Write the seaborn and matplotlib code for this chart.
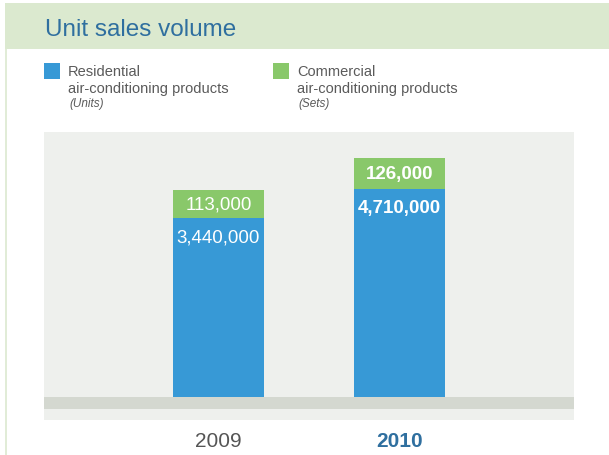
import matplotlib
matplotlib.use("Agg")
import matplotlib.pyplot as plt
from matplotlib.patches import Rectangle
from matplotlib.lines import Line2D
import seaborn as sns
import pandas as pd

# ---- data ----
years = ["2009", "2010"]
residential_units = [3440000, 4710000]
commercial_sets = [113000, 126000]
# bar lengths as drawn in the source chart (the two series are not on a common scale)
residential_bar = [179, 208]
commercial_bar = [28, 31.5]
series_names = ["Residential", "Commercial"]
series_sub = ["air-conditioning products", "air-conditioning products"]
series_units = ["(Units)", "(Sets)"]
title = "Unit sales volume"

# ---- style ----
BLUE = "#3799d6"
GREEN = "#89c86a"
TITLE_BLUE = "#2f6f9f"
BANNER = "#dbe9cf"
PLOT_BG = "#eef0ed"
BAND = "#d4d8d0"
LEG_TXT = "#5a5a5a"

sns.set_theme(style="white")
plt.rcParams["font.family"] = ["Liberation Sans", "DejaVu Sans"]

W, H = 609, 456
fig = plt.figure(figsize=(W / 100, H / 100), dpi=100)
fig.patch.set_facecolor("white")


def fx(px):
    return px / W


def fy(py):
    return 1 - py / H


# banner + left rule
fig.add_artist(Rectangle((fx(5), fy(50)), 1 - fx(5), 46 / H, transform=fig.transFigure,
                         facecolor=BANNER, edgecolor="none", zorder=0))
fig.add_artist(Line2D([fx(5.5), fx(5.5)], [fy(50), 0], transform=fig.transFigure,
                      color=BANNER, lw=1.2, zorder=0))
fig.text(fx(45), fy(36), title, color=TITLE_BLUE, fontsize=17.5, va="baseline", ha="left")

# legend
leg_x = [44, 273]
leg_colors = [BLUE, GREEN]
for i in range(2):
    x0 = leg_x[i]
    fig.add_artist(Rectangle((fx(x0), fy(80)), 16 / W, 16 / H, transform=fig.transFigure,
                             facecolor=leg_colors[i], edgecolor="none"))
    fig.text(fx(x0 + 24), fy(76), series_names[i], color=LEG_TXT, fontsize=10.5, va="baseline")
    fig.text(fx(x0 + 24), fy(92.5), series_sub[i], color=LEG_TXT, fontsize=10.5, va="baseline")
    fig.text(fx(x0 + 25), fy(106.5), series_units[i], color=LEG_TXT, fontsize=8.5,
             style="italic", va="baseline")

# plot area
ax = fig.add_axes([fx(44), fy(421), (574 - 44) / W, (421 - 133) / H])
ax.set_facecolor(PLOT_BG)

df = pd.DataFrame({
    "year": years,
    "residential": residential_bar,
    "total": [r + c for r, c in zip(residential_bar, commercial_bar)],
})
bw = 91 / 181
sns.barplot(data=df, x="year", y="total", color=GREEN, saturation=1, width=bw,
            linewidth=0, ax=ax, zorder=2)
sns.barplot(data=df, x="year", y="residential", color=BLUE, saturation=1, width=bw,
            linewidth=0, ax=ax, zorder=3)

ax.axhspan(-12, 0, color=BAND, zorder=1, lw=0)
ax.set_ylim(-23, 265)
ax.set_xlim(-0.964, 1.964)

for i in range(len(years)):
    bold = i == len(years) - 1
    fw = "bold" if bold else "normal"
    ax.text(i, residential_bar[i] + commercial_bar[i] / 2, f"{commercial_sets[i]:,}",
            ha="center", va="center", color="white", fontsize=13.5, fontweight=fw, zorder=5)
    ax.text(i, residential_bar[i] - 19, f"{residential_units[i]:,}",
            ha="center", va="center", color="white", fontsize=13.5, fontweight=fw, zorder=5)

ax.set_xlabel("")
ax.set_ylabel("")
ax.set_yticks([])
ax.tick_params(axis="x", length=0, pad=8, labelsize=15)
ax.set_xticks(range(len(years)))
ax.set_xticklabels(years)
for i, lab in enumerate(ax.get_xticklabels()):
    if i == len(years) - 1:
        lab.set_color(TITLE_BLUE)
        lab.set_fontweight("bold")
    else:
        lab.set_color("#555555")
for s in ax.spines.values():
    s.set_visible(False)

fig.savefig("out.png", dpi=100, facecolor="white")
